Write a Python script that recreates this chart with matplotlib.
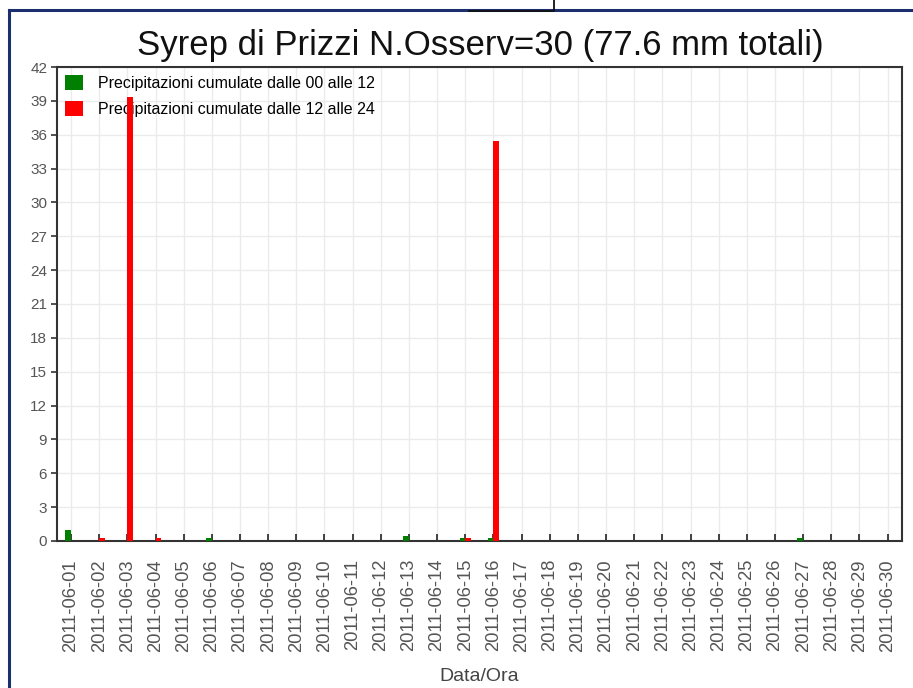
import matplotlib
matplotlib.use("Agg")
import matplotlib.pyplot as plt
from matplotlib.lines import Line2D
import numpy as np

plt.rcParams['font.family'] = ['Liberation Sans', 'DejaVu Sans']

days = ["2011-06-%02d" % d for d in range(1, 31)]
# precipitazioni (mm) per giorno
rain_00_12 = [1.0, 0, 0, 0, 0, 0.3, 0, 0, 0, 0,
              0, 0, 0.4, 0, 0.3, 0.3, 0, 0, 0, 0,
              0, 0, 0, 0, 0, 0, 0.3, 0, 0, 0]
rain_12_24 = [0, 0.3, 39.3, 0.3, 0, 0, 0, 0, 0, 0,
              0, 0, 0, 0, 0.3, 35.4, 0, 0, 0, 0,
              0, 0, 0, 0, 0, 0, 0, 0, 0, 0]
yticks = list(range(0, 43, 3))

fig = plt.figure(figsize=(9.13, 6.88), dpi=100)
ax = fig.add_axes([0.0624, 0.2137, 0.9252, 0.6889])

x = np.arange(len(days))
w = 0.2
ax.bar(x - w / 2, rain_00_12, width=w, color='#007f00', zorder=3,
       label='Precipitazioni cumulate dalle 00 alle 12')
ax.bar(x + w / 2, rain_12_24, width=w, color='#ff0000', zorder=3,
       label='Precipitazioni cumulate dalle 12 alle 24')

ax.set_xlim(-0.5, 29.5)
ax.set_ylim(0, 42)
ax.set_yticks(yticks)
ax.set_xticks(x)
ax.set_xticklabels(days, rotation=90, fontsize=13.2, color='#555555')
ax.tick_params(axis='y', direction='out', length=4, labelsize=11,
               labelcolor='#555555', color='#333333', width=1.2, pad=3)
ax.tick_params(axis='x', direction='in', length=5, color='#222222', width=1.2, pad=13)
ax.grid(True, color='#ebebeb', linewidth=1, zorder=0)
ax.set_axisbelow(True)
for s in ax.spines.values():
    s.set_color('#333333')
    s.set_linewidth(1.5)
ax.set_xlabel('Data/Ora', fontsize=14, color='#444444', labelpad=12)

leg = ax.legend(loc='upper left', frameon=False, fontsize=11.5, handlelength=1.1,
                handleheight=1.1, borderaxespad=0.0, labelspacing=0.6,
                handletextpad=1.0, borderpad=0.5)
leg.set_zorder(1)

fig.text(0.526, 0.934, 'Syrep di Prizzi N.Osserv=30 (77.6 mm totali)',
         ha='center', va='center', fontsize=25, color='#111111')

# cornice blu e segno in alto
navy = '#1b2f6e'
fig.add_artist(Line2D([9 / 913, 1], [1 - 9.5 / 688, 1 - 9.5 / 688],
                      color=navy, lw=2.2, transform=fig.transFigure))
fig.add_artist(Line2D([8.5 / 913, 8.5 / 913], [0, 1 - 9.5 / 688],
                      color=navy, lw=2.2, transform=fig.transFigure))
fig.add_artist(Line2D([469 / 913, 554 / 913, 554 / 913],
                      [1 - 10.5 / 688, 1 - 10.5 / 688, 1],
                      color='#111111', lw=1.3, transform=fig.transFigure))

fig.savefig('out.png', dpi=100)
